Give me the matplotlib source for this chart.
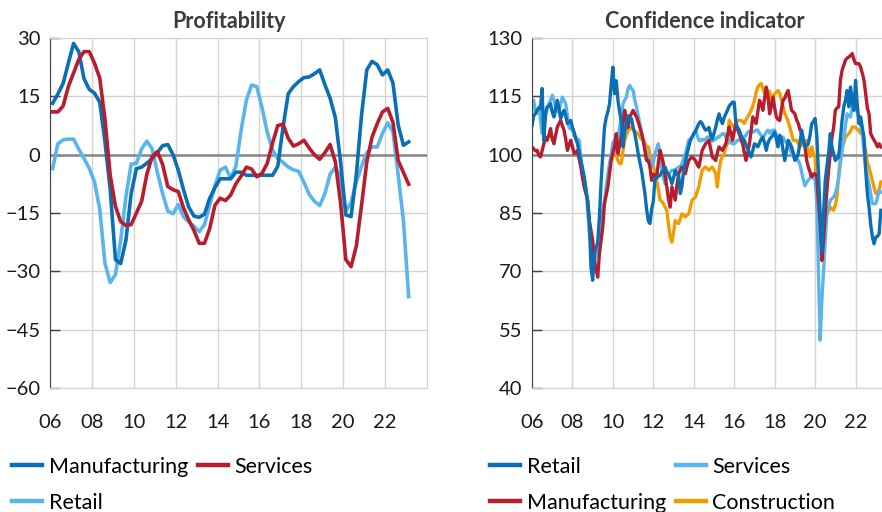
import numpy as np
import matplotlib
matplotlib.use('Agg')
import matplotlib.pyplot as plt
from matplotlib.lines import Line2D

plt.rcParams['font.family'] = ['Lato', 'DejaVu Sans']

DARK_BLUE = '#0a6fb4'
LIGHT_BLUE = '#5ab4ee'
RED = '#b81d2e'
ORANGE = '#f39c00'

# ---- Profitability, quarterly, first point 2006 Q1 ----
prof_start = 2006.125
prof_manufacturing = [
    13.2, 15.6, 18.3, 23.5, 28.6, 26.5, 19.5, 16.8, 15.8, 13.5, 3.3, -9,
    -27, -28, -22, -10, -3.6, -3.2, -2.2, -1, 0.5, 2.3, 2.6, 0,
    -4, -9, -13.5, -15.8, -16.1, -15.3, -11.2, -8.5, -6.2, -6.2, -6.2, -4.5,
    -4.5, -5.3, -5.3, -5.3, -5.3, -5.3, -5.3, -3, 7, 15.7, 17.5, 18.8,
    19.8, 20, 20.8, 21.8, 18, 14.5, 9.5, -2, -15.5, -15.9, -5.2, 10.2,
    21.8, 24, 23.1, 20.5, 21.8, 18.4, 7.6, 2.4, 3.3,
]
prof_services = [
    11, 11, 12.5, 17.5, 21, 24.5, 26.5, 26.5, 23.5, 19.7, 9, -5.3,
    -13.3, -17.2, -18.2, -18, -15, -12, -5, -0.5, 0.8, -2.5, -8.2, -9,
    -9.5, -13.7, -16.8, -19.5, -22.8, -22.8, -19, -13, -11.2, -11.8, -10.4, -7.5,
    -5.5, -3.2, -3.7, -5.7, -4.8, -2.2, 3, 7.5, 7.8, 4.2, 2.2, 2.8,
    3.7, 1.7, 0, -1.2, 0.5, 2.6, -1.9, -12.5, -27, -28.8, -23.5, -13,
    -1.9, 4.5, 8, 11, 11.9, 8.3, -1.5, -4.6, -7.6,
]
prof_retail = [
    -3.6, 2.8, 3.8, 4, 4, 1.4, -1, -3.5, -7, -14, -28, -32.9,
    -30.8, -22, -10.8, -2.4, -2.3, 1.5, 3.5, 1.5, -4.5, -10, -14.5, -15.2,
    -12.8, -16, -17.3, -18.4, -19.8, -18, -13, -8, -4, -3.2, -6, -3,
    6.3, 14, 17.9, 17.5, 12, 5.7, 1.2, -1, -2, -3.2, -3.9, -4.3,
    -7.1, -10.2, -12, -13.1, -10, -5, -3.2, -6, -14.5, -12.3, -7, -3,
    0.5, 2, 2, 5.5, 8.2, 5.9, -5.3, -17, -36.5,
]

# ---- Confidence indicator, monthly, one row per year from Jan 2006 ----
conf_retail = [
    107.5, 110, 110.5, 111.4, 112, 111.8, 117, 103.7, 110, 112.3, 112.5, 113.1,
    111, 109.7, 112, 114, 112, 109.3, 110.5, 111.4, 110, 108, 108.5, 108.8,
    107, 105.8, 104, 102.8, 100.5, 98.5, 96.5, 94.3, 91, 88.3, 83, 71,
    67.7, 74.5, 76, 77.5, 84, 93, 100, 107, 109.5, 111, 113, 118,
    122.5, 115.7, 119, 114, 111, 108.8, 102, 106, 108, 110, 109, 109.3,
    107, 105.4, 103, 100.3, 98, 96, 93, 90, 86, 83, 82.3, 86,
    88, 94, 94, 94.5, 94.7, 95.5, 96, 96.8, 95.5, 95, 94, 92.5,
    94, 96, 95, 94.7, 90, 92, 96, 98, 100.3, 102, 103.7, 104.5,
    105.4, 106, 107, 108, 108.5, 108, 107, 106.3, 106.5, 107, 105, 104,
    105.5, 107, 109, 110.5, 109, 108, 109.5, 110.5, 111.4, 112.5, 113, 113.5,
    113.5, 108, 107, 106.3, 105, 104, 103.7, 102.5, 101.5, 100.5, 99.4, 101,
    102.8, 102.5, 102, 103, 104, 104.5, 103, 101.1, 103, 104, 104.5, 105,
    105.8, 104, 102, 105, 104, 101, 98.5, 101, 103.7, 103, 102, 100.5,
    98.5, 99, 100.3, 103, 106.3, 104, 102, 102.5, 102.8, 105, 108, 108.5,
    109.3, 105, 95, 84.8, 75, 84.8, 93.4, 97, 100.3, 105.4, 102, 100.3,
    98.5, 99, 99.4, 104, 108.8, 112.3, 114, 116.5, 112.3, 117.4, 114, 111.4,
    119.1, 113, 108, 109.7, 107, 104.5, 96, 90, 86.5, 82, 78.8, 77.1,
    78.8, 79, 79.7, 85.7,
]
conf_services = [
    113, 114, 110.5, 111, 112.3, 109, 105.4, 109, 111.4, 112, 113.1, 114,
    115.3, 114, 112.3, 111, 111.4, 113, 114.8, 114, 113.1, 110, 107, 106.5,
    106.3, 105, 104.5, 104, 103.7, 99, 95, 93, 91.7, 85.7, 80, 76.3,
    71, 72, 74, 76.3, 79, 82, 85.7, 88, 91.7, 95, 97.7, 100,
    103, 103.7, 101.1, 104, 107, 110, 113.1, 114, 114.8, 117, 117.8, 117,
    116.5, 114, 112.3, 110, 108, 106, 103.7, 102, 100.3, 99.4, 97.5, 96.8,
    98, 100.3, 101.5, 102.8, 99, 96, 94, 92.5, 94, 95, 95.5, 96,
    96, 96, 96.5, 96.8, 97, 97.7, 99, 100.3, 102, 103.7, 104, 104.5,
    105.5, 106.3, 105, 103.7, 103.5, 104, 103.7, 104, 104.5, 104.5, 104, 103.5,
    103.7, 104, 104.5, 104.5, 105, 105.4, 105.4, 104.5, 104, 103.7, 103, 102.8,
    102.8, 103.2, 103.7, 103.7, 104, 104.5, 104.5, 105, 105.8, 106, 105.8, 105.8,
    106, 106.3, 106.3, 105.5, 105, 104.5, 105, 105.8, 106.3, 105.5, 106, 106.3,
    106.3, 105, 103.7, 104, 104.5, 104.5, 103.5, 103, 102.8, 101.5, 100.5, 99.4,
    99, 98.7, 98.5, 97.5, 95.5, 93.5, 92, 93, 93.4, 94, 95.1, 94,
    93.4, 88.3, 69.4, 52.3, 62.5, 70, 78, 84.8, 86.5, 88.3, 88.7, 89.1,
    90, 91.7, 94, 97.7, 101, 104.5, 107.5, 110.5, 110, 109.7, 112, 114,
    113, 111, 109.7, 107.5, 105.4, 101, 96.8, 94.5, 92.5, 90, 87.4, 87.4,
    87.4, 89, 90.8, 90.4,
]
conf_manufacturing = [
    102, 101.5, 101, 101.1, 100, 99.4, 101, 102.8, 104.5, 103.7, 105, 106.7,
    104, 102.8, 105, 107.1, 108, 108.8, 107.5, 106.3, 104, 101.1, 102.5, 103.7,
    102, 100.3, 100.5, 101.1, 99, 96.8, 94, 91.7, 90, 88.3, 83.1, 80.5,
    78, 72.8, 70.5, 68.5, 74.5, 78, 81.4, 87.4, 89.5, 91.7, 95, 98.5,
    100.5, 102, 105.4, 100.3, 102.5, 104.5, 108, 111.4, 109, 107, 109.7, 110.5,
    111.4, 110.5, 109.7, 108.5, 107, 105.5, 103.7, 101, 98.5, 98.5, 96.8, 93.4,
    95, 94.5, 94.3, 98, 101.1, 99.5, 97.7, 94.5, 91.7, 88.5, 86.5, 91.7,
    90, 88.3, 92, 95.1, 96, 96.8, 96, 95.1, 97, 98.5, 99, 99.4,
    99, 98.5, 97.5, 96.8, 99, 101.1, 102, 102.8, 103.2, 103.7, 101.5, 99.4,
    99, 98.5, 100.5, 102, 101.5, 101.1, 102, 102.8, 105, 107.1, 105.5, 103.7,
    106, 108, 106.5, 105.4, 104, 102.8, 100.5, 98.5, 100.5, 102.8, 106, 109.7,
    109, 108, 111, 114, 113, 111.4, 114.5, 117.4, 115, 110.5, 112.5, 114.8,
    112, 109.7, 109, 108.8, 111.5, 114, 114.5, 115.7, 116.5, 114, 111.4, 111,
    110.5, 109, 108, 106.5, 105.4, 103.5, 102, 98.5, 96.8, 95.5, 94.3, 95,
    95.1, 94.3, 88, 82.3, 72.8, 78, 85, 90.8, 96, 100.3, 104.5, 107,
    111.4, 112, 112.3, 119.1, 121.7, 123, 124.3, 124.8, 125.1, 125.5, 126, 124.5,
    123.4, 123.4, 123.4, 122.5, 121, 119.1, 115.7, 112, 110.5, 105.4, 104.5, 103.7,
    103, 102, 102.8, 102,
]
# construction starts Jan 2010
constr_start = 2010
conf_construction = [
    102, 102, 100, 98.5, 97.7, 97.7, 101, 103.7, 105, 106.3, 106.5, 107,
    106.5, 106, 105.7, 105.4, 104.5, 104, 103.7, 103, 102, 102, 100, 98.5,
    97, 95.5, 93.4, 91, 88.3, 88, 87.4, 86.5, 85.7, 82, 78.8, 77.5,
    80, 83.1, 82.5, 82.3, 83.5, 84.8, 84.5, 84, 84.5, 84.8, 86.5, 88.3,
    88.7, 89.1, 90.5, 91.7, 94, 96, 96.5, 96.8, 96.4, 96, 96.5, 96.8,
    96, 95.1, 91.7, 96, 98.5, 99.5, 100.3, 102, 102.8, 108.8, 108, 107.5,
    107.1, 108, 108.8, 108.8, 108.8, 108.5, 108, 109, 109.7, 110.5, 111.4, 112.5,
    114, 116, 117.4, 118, 118.3, 117, 115.7, 116, 116.5, 116.2, 114, 115,
    115.7, 116, 116.5, 115.8, 114, 112.3, 110.6, 109.7, 108.5, 107.1, 105.5, 103.7,
    103.7, 103.7, 103, 102, 102.5, 102.8, 103, 103.7, 100, 99.5, 102, 100,
    99.4, 89.1, 84, 81.4, 81.4, 82, 83.1, 84.8, 85.5, 86.5, 86, 85.7,
    87, 89.1, 95.1, 99, 102, 103, 104.5, 105, 105.4, 106, 107.1, 107.1,
    107.1, 106.5, 106.3, 105.4, 105.4, 103, 101.1, 98, 96.8, 95, 93.4, 91.5,
    90, 90, 91, 93,
]

W, H = 882, 512
fig = plt.figure(figsize=(W / 100, H / 100), dpi=100)


def axes_px(left, top, right, bottom):
    return fig.add_axes([left / W, 1 - bottom / H, (right - left) / W, (bottom - top) / H])


def style(ax, ylim, step, base):
    ax.set_xlim(2006, 2024)
    ax.set_ylim(*ylim)
    ax.set_yticks(np.arange(ylim[0], ylim[1] + 1, step))
    years = list(range(2006, 2023, 2))
    ax.set_xticks(years)
    ax.set_xticklabels([f'{y % 100:02d}' for y in years])
    ax.grid(True, color='#d3d3d3', lw=1)
    ax.set_axisbelow(True)
    ax.axhline(base, color='#858585', lw=1.8, zorder=1.5)
    for s in ['top', 'right', 'bottom']:
        ax.spines[s].set_color('#d3d3d3')
    ax.spines['left'].set_color('#404040')
    ax.tick_params(axis='y', direction='in', length=7, width=1, color='#404040',
                   pad=7, labelsize=14.5, labelcolor='#1a1a1a')
    ax.tick_params(axis='x', length=0, pad=19, labelsize=14.5, labelcolor='#1a1a1a')


ax1 = axes_px(50, 38, 427, 388)
ax2 = axes_px(532, 38, 896, 388)

# ---- Panel 1: Profitability ----
qx = prof_start + 0.25 * np.arange(len(prof_manufacturing))
ax1.plot(qx, prof_retail, color=LIGHT_BLUE, lw=2.6, label='Retail')
ax1.plot(qx, prof_manufacturing, color=DARK_BLUE, lw=2.6, label='Manufacturing')
ax1.plot(qx, prof_services, color=RED, lw=2.6, label='Services')
style(ax1, (-60, 30), 15, 0)

# ---- Panel 2: Confidence indicator ----
mx = 2006 + np.arange(len(conf_retail)) / 12
cx = constr_start + np.arange(len(conf_construction)) / 12
ax2.plot(cx, conf_construction, color=ORANGE, lw=2.4)
ax2.plot(mx, conf_services, color=LIGHT_BLUE, lw=2.4)
ax2.plot(mx, conf_manufacturing, color=RED, lw=2.4)
ax2.plot(mx, conf_retail, color=DARK_BLUE, lw=2.4)
style(ax2, (40, 130), 15, 100)

fig.text(229 / W, 1 - 22 / H, 'Profitability', ha='center', va='center',
         fontsize=15.5, fontweight='bold', color='#3c3c3c')
fig.text(705 / W, 1 - 22 / H, 'Confidence indicator', ha='center', va='center',
         fontsize=15.5, fontweight='bold', color='#3c3c3c')

# legends (column-major order gives the row layout of the original)
def handle(c):
    return Line2D([], [], color=c, lw=3.2)

leg_kw = dict(frameon=False, ncol=2, fontsize=15.5, handlelength=1.4,
              handletextpad=0.3, columnspacing=0.45, labelspacing=0.74,
              borderpad=0, borderaxespad=0, loc='upper left')
fig.legend([handle(DARK_BLUE), handle(LIGHT_BLUE), handle(RED)],
           ['Manufacturing', 'Retail', 'Services'],
           bbox_to_anchor=(12 / W, 1 - 457 / H), **leg_kw)
fig.legend([handle(DARK_BLUE), handle(RED), handle(LIGHT_BLUE), handle(ORANGE)],
           ['Retail', 'Manufacturing', 'Services', 'Construction'],
           bbox_to_anchor=(490 / W, 1 - 457 / H), **leg_kw)

fig.savefig('out.png', dpi=100)
